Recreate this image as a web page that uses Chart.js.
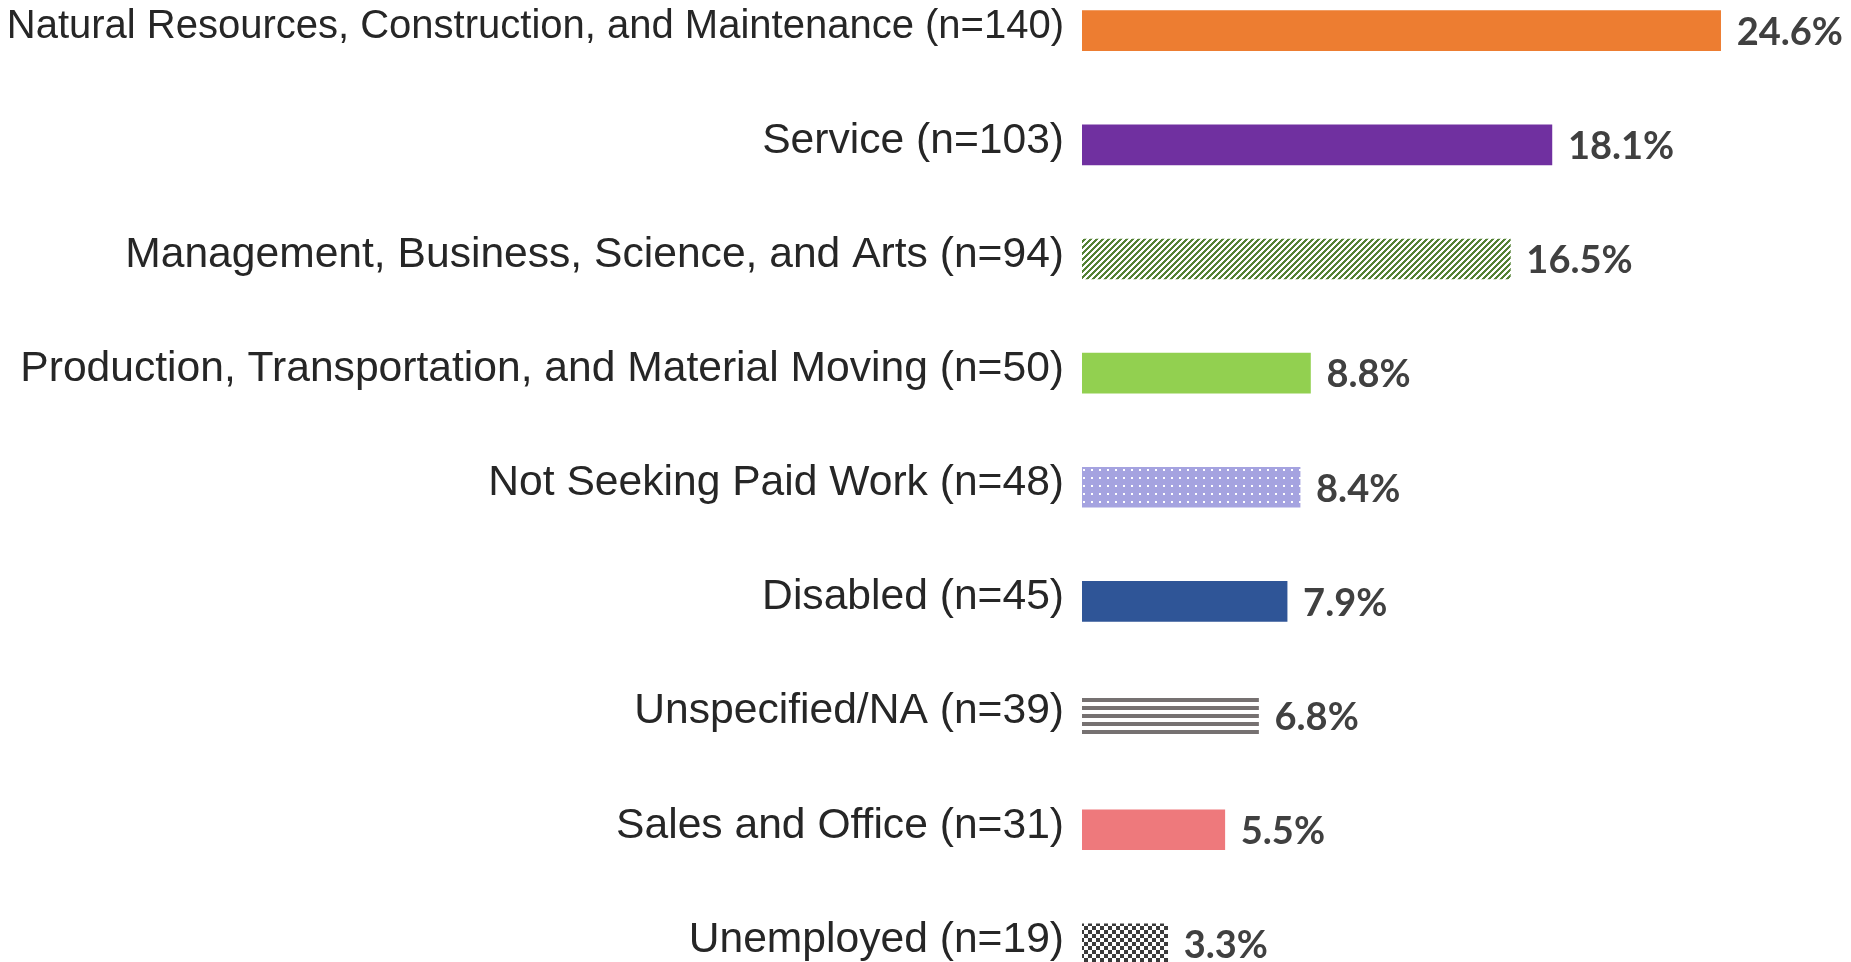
<!DOCTYPE html>
<html>
<head>
<meta charset="utf-8">
<script src="https://cdn.jsdelivr.net/npm/chart.js@4"></script>
<style>
  html, body { margin: 0; padding: 0; background: #fff; overflow: hidden; width: 1851px; height: 962px; }
  #wrap { position: absolute; left: 0; top: -70px; width: 1851px; height: 1113px; }
</style>
</head>
<body>
<div id="wrap"><canvas id="barChart" width="1851" height="1113"></canvas></div>
<script>
const categories = [
    'Natural Resources, Construction, and Maintenance (n=140)',
    'Service (n=103)',
    'Management, Business, Science, and Arts (n=94)',
    'Production, Transportation, and Material Moving (n=50)',
    'Not Seeking Paid Work (n=48)',
    'Disabled (n=45)',
    'Unspecified/NA (n=39)',
    'Sales and Office (n=31)',
    'Unemployed (n=19)'
];
const percents = [24.6, 18.1, 16.5, 8.8, 8.4, 7.9, 6.8, 5.5, 3.3];

// small tiles for the patterned bars
function makeTile(size, draw) {
    const c = document.createElement('canvas');
    c.width = size;
    c.height = size;
    draw(c.getContext('2d'), size);
    return document.getElementById('barChart').getContext('2d').createPattern(c, 'repeat');
}

document.addEventListener('DOMContentLoaded', function() {
    const diagonal = makeTile(6, function(g, s) {
        g.fillStyle = '#fff';
        g.fillRect(0, 0, s, s);
        g.fillStyle = '#548235';
        for (let x = 0; x < s; x++) {
            for (let y = 0; y < s; y++) {
                if ((x + y) % s < 3) g.fillRect(x, y, 1, 1);
            }
        }
    });
    const dots = makeTile(8, function(g, s) {
        g.fillStyle = '#a5a3e0';
        g.fillRect(0, 0, s, s);
        g.fillStyle = '#fff';
        g.fillRect(3, 3, 2, 2);
    });
    const stripes = makeTile(8, function(g, s) {
        g.fillStyle = '#fff';
        g.fillRect(0, 0, s, s);
        g.fillStyle = '#767171';
        g.fillRect(0, 0, s, 4);
    });
    const checker = makeTile(8, function(g, s) {
        g.fillStyle = '#fff';
        g.fillRect(0, 0, s, s);
        g.fillStyle = '#3b3b3b';
        g.fillRect(0, 0, 4, 4);
        g.fillRect(4, 4, 4, 4);
    });

    const fills = ['#ed7d31', '#7030a0', diagonal, '#92d050', dots, '#2f5597', stripes, '#ee797c', checker];

    const valueLabels = {
        id: 'valueLabels',
        afterDatasetsDraw(chart) {
            const ctx = chart.ctx;
            const meta = chart.getDatasetMeta(0);
            ctx.save();
            ctx.font = 'bold 38px Lato';
            ctx.fillStyle = '#404040';
            ctx.textAlign = 'left';
            ctx.textBaseline = 'middle';
            meta.data.forEach(function(bar, i) {
                ctx.fillText(percents[i].toFixed(1) + '%', bar.x + 16, bar.y + 2);
            });
            ctx.restore();
        }
    };

    new Chart(document.getElementById('barChart'), {
        type: 'bar',
        data: {
            labels: categories,
            datasets: [{
                data: percents,
                backgroundColor: fills,
                borderWidth: 0,
                barThickness: 40
            }]
        },
        options: {
            indexAxis: 'y',
            responsive: false,
            animation: false,
            layout: { padding: { left: 0, right: 94, top: 0, bottom: 0 } },
            plugins: {
                legend: { display: false },
                tooltip: { enabled: false }
            },
            scales: {
                x: {
                    display: false,
                    min: 0,
                    max: 26
                },
                y: {
                    afterFit: function(scale) { scale.width = 1082; },
                    grid: { display: false, drawTicks: false },
                    border: { display: false },
                    ticks: {
                        padding: 18,
                        labelOffset: -4,
                        color: '#262626',
                        font: function(c) {
                            return { family: 'Liberation Sans', size: c.index === 0 ? 40 : 42.6 };
                        }
                    }
                }
            }
        },
        plugins: [valueLabels]
    });
});
</script>
</body>
</html>
